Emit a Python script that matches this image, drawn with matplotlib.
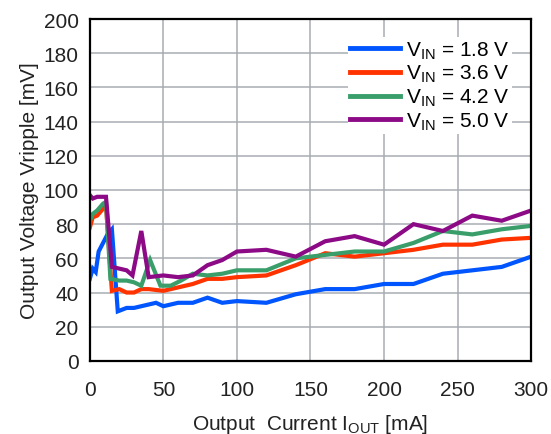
import matplotlib
matplotlib.use("Agg")
import matplotlib.pyplot as plt

plt.rcParams['font.family'] = ['Liberation Sans', 'DejaVu Sans']
plt.rcParams['mathtext.fontset'] = 'custom'
plt.rcParams['mathtext.rm'] = 'Liberation Sans'
plt.rcParams['mathtext.it'] = 'Liberation Sans'

# --- data (mA, mV) ---
x_18 = [0, 2, 4, 6, 9, 12, 15, 19, 25, 30, 35, 40, 45, 50, 60, 70, 80, 90, 100,
        120, 140, 160, 180, 200, 220, 240, 260, 280, 300]
y_18 = [48, 54, 52, 64, 69, 74, 77, 29, 31, 31, 32, 33, 34, 32, 34, 34, 37, 34, 35,
        34, 39, 42, 42, 45, 45, 51, 53, 55, 61]

x_36 = [0, 2, 5, 9, 11, 15, 20, 25, 30, 35, 40, 50, 60, 70, 80, 90, 100,
        120, 140, 160, 180, 200, 220, 240, 260, 280, 300]
y_36 = [78, 84, 85, 89, 91, 41, 42, 40, 40, 42, 42, 41, 43, 45, 48, 48, 49,
        50, 56, 63, 61, 63, 65, 68, 68, 71, 72]

x_42 = [0, 2, 5, 9, 11, 14, 20, 25, 30, 35, 41, 48, 55, 62, 70, 80, 90, 100,
        120, 140, 150, 180, 200, 220, 240, 260, 280, 300]
y_42 = [82, 86, 88, 92, 93, 48, 47, 47, 46, 44, 59, 44, 44, 47, 51, 50, 51, 53,
        53, 60, 61, 64, 64, 69, 76, 74, 77, 79]

x_50 = [0, 2, 5, 8, 11, 15, 20, 25, 29, 35, 40, 50, 60, 70, 80, 90, 100,
        120, 140, 160, 180, 200, 220, 240, 260, 280, 300]
y_50 = [97, 95, 96, 96, 96, 55, 54, 53, 50, 76, 49, 50, 49, 50, 56, 59, 64,
        65, 61, 70, 73, 68, 80, 76, 85, 82, 88]

labels = [r'V$_{\mathrm{IN}}$ = 1.8 V', r'V$_{\mathrm{IN}}$ = 3.6 V',
          r'V$_{\mathrm{IN}}$ = 4.2 V', r'V$_{\mathrm{IN}}$ = 5.0 V']
colors = ['#0055ff', '#ff3300', '#3a9e6a', '#8c0a86']

fig = plt.figure(figsize=(5.51, 4.35), dpi=100)
ax = fig.add_axes([0.163, 0.168, 0.801, 0.786])

for xs, ys, lab, c in zip([x_18, x_36, x_42, x_50], [y_18, y_36, y_42, y_50], labels, colors):
    ax.plot(xs, ys, color=c, lw=3.0, label=lab, solid_joinstyle='miter')

ax.set_xlim(0, 300)
ax.set_ylim(0, 200)
ax.set_xticks(range(0, 301, 50))
ax.set_yticks(range(0, 201, 20))
ax.grid(True, color='#a8acb2', lw=1.1)
ax.set_axisbelow(True)
ax.tick_params(length=0, labelsize=15, colors='#222222')
ax.tick_params(axis='y', pad=8)
ax.tick_params(axis='x', pad=14)
for s in ax.spines.values():
    s.set_linewidth(1.6)
    s.set_color('black')

ax.set_xlabel(r'Output  Current I$_{\mathrm{OUT}}$ [mA]', fontsize=15, labelpad=9, color='#222222')
ax.set_ylabel('Output Voltage Vripple [mV]', fontsize=15, labelpad=3, color='#222222')

leg = ax.legend(loc='upper left', bbox_to_anchor=(0.585, 0.947), fontsize=15,
                frameon=True, handlelength=2.4, handletextpad=0.3,
                labelspacing=0.12, borderpad=0.1, borderaxespad=0.0)
leg.get_frame().set_edgecolor('none')
leg.get_frame().set_facecolor('white')
leg.get_frame().set_alpha(1.0)
leg.get_frame().set_boxstyle('square', pad=0.0)
for line in leg.get_lines():
    line.set_linewidth(3.5)

fig.savefig('out.png', dpi=100)
